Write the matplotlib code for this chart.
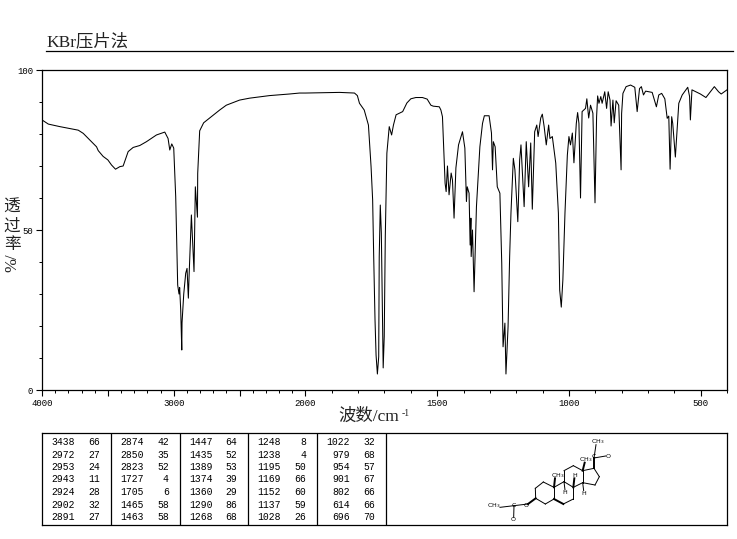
"""
IR spectrum (KBr pellet) with a peak table and the structure drawing.
"""
import numpy as np
import matplotlib
matplotlib.use("Agg")
import matplotlib.pyplot as plt

plt.rcParams['font.family'] = ['Liberation Serif', 'Noto Sans CJK SC', 'DejaVu Sans']

WIDTH, HEIGHT = 737, 539

wavenumber = [
    4000, 3952, 3864, 3775, 3725, 3687, 3636, 3586, 3573, 3536, 3500, 3472, 3442, 3409,
    3384, 3346, 3308, 3258, 3207, 3131, 3068,
    3043, 3030, 3015, 3000, 2992, 2985, 2980, 2970, 2960, 2955, 2947, 2939, 2937, 2924,
    2909, 2899, 2889, 2884, 2866, 2846, 2836, 2820, 2818, 2808, 2803, 2773, 2651, 2601,
    2500, 2424, 2273, 2121, 2045, 2000, 1871, 1814, 1803, 1795, 1777, 1761, 1751, 1745,
    1741, 1736, 1732,
    1727, 1722, 1720, 1716, 1712, 1707, 1705, 1701, 1697, 1691, 1682, 1673, 1666, 1656,
    1631, 1615, 1600, 1581, 1556, 1538, 1524, 1515, 1492, 1486, 1480, 1473, 1470, 1466,
    1461, 1455, 1447, 1442, 1436,
    1429, 1419, 1404, 1395, 1389, 1386, 1379, 1375, 1372, 1371, 1366, 1360, 1351, 1338,
    1328, 1321, 1303, 1294, 1290, 1287, 1280, 1272, 1262, 1255, 1250, 1243, 1239, 1231,
    1225, 1220, 1211, 1205, 1194, 1187, 1182, 1170, 1162, 1153, 1145, 1139, 1130, 1122,
    1117, 1107, 1101, 1094, 1086, 1077, 1072, 1063, 1050, 1040, 1035, 1029, 1023, 1015,
    1006, 1000, 994, 987, 981, 972, 967, 962, 956, 950, 937, 932, 925, 918, 909, 901,
    895, 891, 886, 879, 874, 864, 857, 851, 844, 840, 833, 828, 821, 811, 802, 800, 795,
    783, 766, 750, 741, 732, 725, 717, 709, 684, 668, 659, 648, 636, 627, 621, 616, 610,
    606, 596, 583, 570, 549, 542, 539, 533, 501, 480, 463, 448, 432, 422, 400,
]
transmittance = [
    84.4, 83.1, 82.3, 81.6, 81.2, 80.2, 78.1, 76.0, 74.8, 73.0, 71.9, 70.3, 69.0, 69.8,
    70.0, 74.5, 75.8, 76.4, 77.6, 79.7, 80.6,
    78.6, 75.0, 76.9, 75.6, 67.8, 60.4, 51.0, 32.8, 30.0, 32.0, 25.0, 12.5, 21.0, 30.0,
    36.5, 38.0, 28.7, 35.0, 54.7, 37.0, 63.5, 54.0, 67.7, 76.6, 81.0, 83.5, 87.5, 89.0,
    90.6, 91.2, 92.0, 92.5, 92.8, 92.8, 93.0, 92.8, 92.0, 89.6, 87.5, 82.8, 69.8, 59.4,
    41.7, 21.9, 10.9,
    5.0, 10.4, 41.7, 57.8, 49.0, 18.7, 6.9, 16.7, 48.0, 74.0, 82.3, 79.7, 82.8, 86.0,
    87.0, 89.7, 91.0, 91.4, 91.4, 90.9, 89.0, 88.7, 88.5, 87.5, 85.4, 71.0, 64.6, 62.0,
    70.0, 61.0, 67.8, 65.6, 53.7,
    69.4, 76.6, 80.7, 75.6, 58.9, 63.5, 61.5, 45.3, 53.7, 41.7, 50.0, 30.7, 57.3, 76.0,
    83.3, 85.7, 85.7, 80.3, 68.8, 77.6, 76.0, 63.5, 61.5, 39.7, 13.5, 20.9, 5.0, 19.8,
    41.7, 55.3, 72.4, 68.8, 52.6, 71.9, 76.6, 57.3, 77.6, 63.5, 77.2, 56.5, 80.7, 82.8,
    79.2, 85.0, 86.2, 82.3, 76.6, 82.8, 78.6, 79.2, 70.9, 55.3, 31.2, 25.9, 34.4, 55.3,
    73.4, 79.2, 76.6, 80.3, 71.0, 83.3, 86.7, 83.3, 60.0, 87.0, 88.0, 91.0, 85.0, 89.0,
    86.5, 58.5, 85.4, 91.9, 89.6, 91.7, 89.6, 93.2, 88.0, 93.2, 90.6, 82.5, 90.6, 83.5,
    90.4, 89.0, 68.8, 86.4, 92.7, 94.8, 95.3, 94.6, 87.0, 94.2, 94.8, 92.2, 93.4, 93.0,
    88.5, 92.2, 92.7, 91.0, 84.9, 85.6, 69.0, 85.4, 83.3, 72.8, 89.6, 92.2, 94.6, 91.7,
    84.4, 93.8, 92.5, 91.4, 93.2, 94.8, 93.2, 92.5, 93.8,
]

x_labeled = [4000, 3000, 2000, 1500, 1000, 500]
x_major = [4000, 3500, 3000, 2500, 2000, 1500, 1000, 500]
x_minor = list(range(400, 4000, 100))
y_labeled = [0, 50, 100]
y_minor = list(range(0, 101, 10))

peak_wave = [
    ["3438", "2972", "2953", "2943", "2924", "2902", "2891"],
    ["2874", "2850", "2823", "1727", "1705", "1465", "1463"],
    ["1447", "1435", "1389", "1374", "1360", "1290", "1268"],
    ["1248", "1238", "1195", "1169", "1152", "1137", "1028"],
    ["1022", "979", "954", "901", "802", "614", "696"],
]
peak_trans = [
    ["66", "27", "24", "11", "28", "32", "27"],
    ["42", "35", "52", "4", "6", "58", "58"],
    ["64", "52", "53", "39", "29", "86", "68"],
    ["8", "4", "50", "66", "60", "59", "26"],
    ["32", "68", "57", "67", "66", "66", "70"],
]

# Структура: координаты атомов на рисунке молекулы
atoms = {
    'c1': (310, 156), 'c2': (286, 175), 'c3': (287, 205), 'c4': (316, 222),
    'c5': (342, 207), 'c6': (370, 222), 'c7': (400, 207), 'c8': (400, 172),
    'c9': (372, 155), 'c10': (342, 172), 'c11': (372, 122), 'c12': (400, 107),
    'c13': (428, 122), 'c14': (428, 158), 'c15': (465, 165), 'c16': (478, 140),
    'c17': (462, 115), 'c18': (434, 98), 'c19': (345, 145), 'c20': (462, 84),
    'o20': (497, 78), 'me21': (468, 44), 'o3': (264, 222), 'cac': (222, 227),
    'meac': (180, 232), 'oac': (221, 262), 'h9': (375, 180), 'h8': (403, 145),
    'h14': (431, 182),
}
thin_bonds = [
    ('c1', 'c2'), ('c2', 'c3'), ('c3', 'c4'), ('c4', 'c5'), ('c5', 'c10'), ('c10', 'c1'),
    ('c6', 'c7'), ('c7', 'c8'), ('c8', 'c9'), ('c9', 'c10'),
    ('c9', 'c11'), ('c11', 'c12'), ('c12', 'c13'), ('c13', 'c14'), ('c14', 'c8'),
    ('c13', 'c17'), ('c17', 'c16'), ('c16', 'c15'), ('c15', 'c14'),
    ('c20', 'me21'), ('c20', 'o20'), ('o3', 'cac'), ('cac', 'meac'), ('cac', 'oac'),
    ('c9', 'h9'), ('c14', 'h14'),
]
bold_bonds = [
    ('c5', 'c6'), ('c10', 'c19'), ('c13', 'c18'), ('c17', 'c20'), ('c3', 'o3'),
    ('c8', 'h8'),
]
atom_labels = [
    ('CH$_3$', 473, 36), ('C', 462, 78), ('O', 504, 78), ('CH$_3$', 438, 90),
    ('CH$_3$', 354, 137), ('H', 403, 136), ('H', 375, 187), ('H', 432, 190),
    ('O', 258, 226), ('C', 220, 227), ('CH$_3$', 160, 228), ('O', 220, 269),
]


def forward(w):
    # Выше 2000 шкала сжата вдвое
    w = np.asarray(w, dtype=float)
    return np.where(w > 2000, 2000 + (w - 2000) / 2, w)


def inverse(v):
    v = np.asarray(v, dtype=float)
    return np.where(v > 2000, 2000 + (v - 2000) * 2, v)


def px_axes(fig, left, top, right, bottom):
    """Оси по пиксельным границам рисунка."""
    return fig.add_axes([left / WIDTH, 1 - bottom / HEIGHT,
                         (right - left) / WIDTH, (bottom - top) / HEIGHT])


def draw_spectrum(fig):
    ax = px_axes(fig, 42, 70, 727, 390)
    ax.set_xscale('function', functions=(forward, inverse))
    ax.plot(wavenumber, transmittance, color='black', lw=0.75)
    ax.set_xlim(4000, 400)
    ax.set_ylim(0, 100)

    ax.set_xticks(x_major)
    ax.set_xticklabels([str(w) if w in x_labeled else '' for w in x_major],
                       family='Liberation Mono', fontsize=6.5)
    ax.set_xticks(x_minor, minor=True)
    ax.set_yticks(y_labeled)
    ax.set_yticklabels([str(v) for v in y_labeled],
                       family='Liberation Mono', fontsize=6.5)
    ax.set_yticks(y_minor, minor=True)
    ax.tick_params(which='major', length=4.5, width=0.8, pad=2)
    ax.tick_params(which='minor', length=2, width=0.7)
    for spine in ax.spines.values():
        spine.set_linewidth(0.9)


def draw_labels(fig):
    fig.text(46 / WIDTH, 1 - 42 / HEIGHT, 'KBr压片法', fontsize=12.5,
             va='center', color='#222222')
    fig.add_artist(plt.Line2D([46 / WIDTH, 733 / WIDTH],
                              [1 - 50.5 / HEIGHT, 1 - 50.5 / HEIGHT],
                              color='black', lw=0.9))
    fig.text(338 / WIDTH, 1 - 417 / HEIGHT, '波数/cm', fontsize=12.5,
             ha='left', va='center', color='#222222')
    fig.text(402 / WIDTH, 1 - 413 / HEIGHT, '-1', fontsize=7,
             ha='left', va='center', color='#222222')
    for ch, y in zip('透过率', (208, 227, 245)):
        fig.text(12 / WIDTH, 1 - y / HEIGHT, ch, fontsize=12,
                 ha='center', va='center', color='#222222')
    fig.text(12 / WIDTH, 1 - 263 / HEIGHT, '%/', fontsize=12, rotation=90,
             ha='center', va='center', color='#222222')


def draw_table(fig):
    ax = px_axes(fig, 42, 433, 727, 525)
    ax.set_xlim(0, 685)
    ax.set_ylim(92, 0)
    ax.set_xticks([])
    ax.set_yticks([])
    for spine in ax.spines.values():
        spine.set_linewidth(0.9)
    for i in range(5):
        ax.axvline(69 + i * 68.75, color='black', lw=0.9)
        for j in range(7):
            y = 9 + j * 12.5
            ax.text(33 + i * 68.75, y, peak_wave[i][j], ha='right', va='center',
                    family='Liberation Mono', fontsize=7)
            ax.text(58 + i * 68.75, y, peak_trans[i][j], ha='right', va='center',
                    family='Liberation Mono', fontsize=7)


def draw_molecule(fig):
    ax = px_axes(fig, 440, 430, 640, 530)
    ax.set_xlim(0, 600)
    ax.set_ylim(300, 0)
    ax.axis('off')
    ax.patch.set_alpha(0)
    for a, b in thin_bonds:
        ax.plot([atoms[a][0], atoms[b][0]], [atoms[a][1], atoms[b][1]],
                color='black', lw=0.7)
    for a, b in bold_bonds:
        ax.plot([atoms[a][0], atoms[b][0]], [atoms[a][1], atoms[b][1]],
                color='black', lw=1.4)
    for text, x, y in atom_labels:
        ax.text(x, y, text, ha='center', va='center', fontsize=4.5,
                family='DejaVu Sans')


def main():
    fig = plt.figure(figsize=(WIDTH / 100, HEIGHT / 100), dpi=100)
    draw_spectrum(fig)
    draw_labels(fig)
    draw_table(fig)
    draw_molecule(fig)
    fig.savefig('out.png', dpi=100)


if __name__ == "__main__":
    main()
